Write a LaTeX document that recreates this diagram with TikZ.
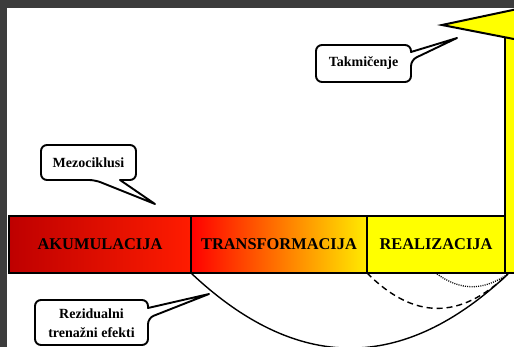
\documentclass[tikz,border=0pt]{standalone}
\usepackage{fontspec}
\setmainfont{Liberation Serif}
\definecolor{framegray}{RGB}{60,60,60}
\definecolor{darkred}{RGB}{190,0,0}
\definecolor{brightred}{RGB}{255,28,0}
\definecolor{pureyellow}{RGB}{255,255,0}
\definecolor{endyellow}{RGB}{255,235,0}
\begin{document}
\begin{tikzpicture}[x=1pt,y=-1pt,
  seg/.style={draw=black,line width=2pt,minimum height=57pt,inner sep=0pt,
    font=\fontsize{16.4}{18}\selectfont\bfseries},
  callout/.style={draw=black,fill=white,line width=1.9pt,line join=round},
  ctext/.style={font=\fontsize{14}{19}\selectfont\bfseries,align=center,inner sep=0pt},
  curve/.style={line width=1.4pt}]
\useasboundingbox (0,0) rectangle (514,347);
\clip (0,0) rectangle (514,347);
\fill[white] (0,0) rectangle (514,347);
% named points
\coordinate (colbase) at (508,274);
\coordinate (dotstart) at (437,274);
% curves (below the bar)
\draw[curve] (191,273) .. controls (297,373) and (403,373) .. (colbase);
\draw[curve,dash pattern=on 6pt off 4pt] (367,273) .. controls (414,320) and (460,320) .. (colbase);
\draw[line width=1.3pt,dash pattern=on 1pt off 1.2pt] (dotstart) .. controls (461,291) and (483,291) .. (colbase);
% bar
\node[seg,left color=darkred,right color=brightred,minimum width=182pt] (akum) at (100,244.5) {AKUMULACIJA};
\node[seg,left color=red,right color=endyellow,minimum width=176pt] (trans) at (279,244.5) {TRANSFORMACIJA};
\node[seg,fill=pureyellow,minimum width=138pt] (real) at (436,244.5) {REALIZACIJA};
% vertical arrow
\draw[line width=2pt,fill=pureyellow] (505,273) -- (505,30) -- (540,30) -- (540,273) -- cycle;
\draw[line width=2pt,fill=pureyellow,line join=miter] (442,25) -- (560,0) -- (560,48) -- cycle;
% callouts
\draw[callout] (41,162) [rounded corners=6pt] -- (41,180) -- (95,180) [sharp corners] -- (155,204) -- (120,180) [rounded corners=6pt] -- (136,180) -- (136,145) -- (41,145) -- cycle;
\node[ctext] (mezo) at (88.5,162.5) {Mezociklusi};
\draw[callout] (363,82) [rounded corners=6pt] -- (411,82) -- (411,60) [sharp corners] -- (457,38) -- (411,52) [rounded corners=6pt] -- (411,45) -- (316,45) -- (316,82) -- cycle;
\node[ctext] (takm) at (363.5,63.5) {Takmičenje};
\draw[callout] (91,345) [rounded corners=6pt] -- (148,345) -- (148,318) [sharp corners] -- (209,294) -- (148,308) [rounded corners=6pt] -- (148,300) -- (35,300) -- (35,345) -- cycle;
\node[ctext] (rezid) at (91.5,323) {Rezidualni\\trenažni efekti};
% frame
\fill[framegray] (0,0) rectangle (514,8);
\fill[framegray] (0,0) rectangle (7,347);
\end{tikzpicture}
\end{document}
